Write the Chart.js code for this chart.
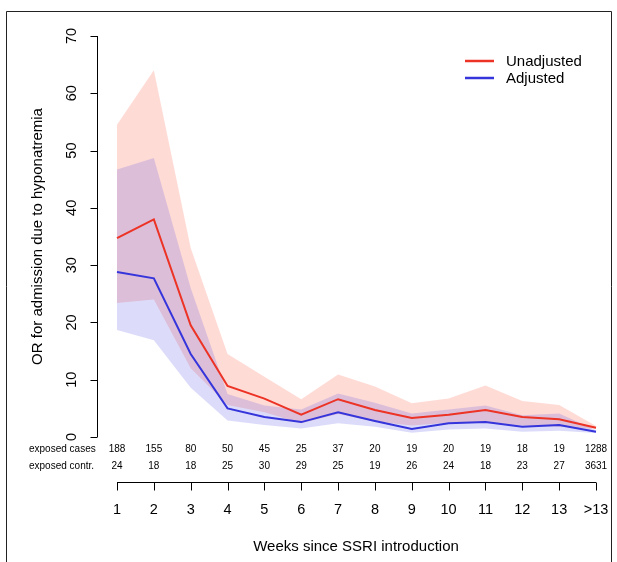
<!DOCTYPE html>
<html>
<head>
<meta charset="utf-8">
<script src="https://cdn.jsdelivr.net/npm/chart.js@4/dist/chart.umd.min.js"></script>
<style>
  html, body { margin: 0; padding: 0; background: #ffffff; }
  canvas { display: block; }
</style>
</head>
<body>
<canvas id="c" width="617" height="562"></canvas>
<script>
// ---- data ----
const weeks = ['1','2','3','4','5','6','7','8','9','10','11','12','13','>13'];
const unadjusted = [34.7, 38.0, 19.5, 8.9, 6.7, 3.9, 6.6, 4.7, 3.3, 3.9, 4.7, 3.5, 3.1, 1.6];
const unadjLower = [23.4, 24.0, 12.0, 5.6, 4.3, 2.4, 4.0, 2.7, 2.0, 2.5, 2.5, 2.0, 1.8, 1.4];
const unadjUpper = [54.5, 64.0, 33.0, 14.5, 10.5, 6.6, 10.9, 8.8, 5.9, 6.7, 9.0, 6.3, 5.6, 1.9];
const adjusted   = [28.8, 27.7, 14.5, 5.0, 3.5, 2.6, 4.3, 2.8, 1.4, 2.4, 2.6, 1.8, 2.1, 0.9];
const adjLower   = [18.7, 16.9, 8.6, 2.9, 2.1, 1.5, 2.4, 1.8, 0.75, 1.3, 1.5, 0.9, 1.1, 0.7];
const adjUpper   = [46.7, 48.7, 26.0, 7.5, 5.5, 4.8, 7.6, 6.0, 4.1, 4.8, 5.5, 3.8, 4.1, 1.2];
const exposedCases = [188, 155, 80, 50, 45, 25, 37, 20, 19, 20, 19, 18, 19, 1288];
const exposedContr = [24, 18, 18, 25, 30, 29, 25, 19, 26, 24, 18, 23, 27, 3631];
const yTicks = [0, 10, 20, 30, 40, 50, 60, 70];

const RED = '#EC3326';
const BLUE = '#3535DB';
const PINK_FILL = 'rgba(255,110,90,0.25)';
const BLUE_FILL = 'rgba(60,60,230,0.18)';
const FONT = '"Liberation Sans", Arial, Helvetica, sans-serif';

const rAxes = {
  id: 'rAxes',
  afterDraw(chart) {
    const ctx = chart.ctx;
    const xs = chart.scales.x, ys = chart.scales.y;
    ctx.save();
    // outer frame
    ctx.strokeStyle = '#222';
    ctx.lineWidth = 1;
    ctx.beginPath();
    ctx.moveTo(6.5, 562);
    ctx.lineTo(6.5, 11.5);
    ctx.lineTo(611.5, 11.5);
    ctx.lineTo(611.5, 562);
    ctx.stroke();

    // y axis
    const yAxisX = Math.round(xs.getPixelForValue(0) - 20) + 0.5;
    ctx.strokeStyle = '#000';
    ctx.beginPath();
    ctx.moveTo(yAxisX, ys.getPixelForValue(yTicks[0]));
    ctx.lineTo(yAxisX, ys.getPixelForValue(yTicks[yTicks.length - 1]));
    yTicks.forEach(t => {
      const py = Math.round(ys.getPixelForValue(t)) + 0.5;
      ctx.moveTo(yAxisX, py);
      ctx.lineTo(yAxisX - 7, py);
    });
    ctx.stroke();
    ctx.fillStyle = '#000';
    ctx.font = '14.5px ' + FONT;
    ctx.textAlign = 'center';
    ctx.textBaseline = 'middle';
    yTicks.forEach(t => {
      const py = ys.getPixelForValue(t);
      ctx.save();
      ctx.translate(yAxisX - 26, py);
      ctx.rotate(-Math.PI / 2);
      ctx.fillText(String(t), 0, 0);
      ctx.restore();
    });
    // y title
    ctx.font = '15px ' + FONT;
    ctx.save();
    ctx.translate(38, (ys.getPixelForValue(0) + ys.getPixelForValue(70)) / 2);
    ctx.rotate(-Math.PI / 2);
    ctx.fillText('OR for admission due to hyponatremia', 0, 0);
    ctx.restore();

    // table of counts
    ctx.font = '10px ' + FONT;
    ctx.textAlign = 'left';
    ctx.fillText('exposed cases', 29, 449);
    ctx.fillText('exposed contr.', 29, 466);
    ctx.textAlign = 'center';
    weeks.forEach((w, i) => {
      const px = xs.getPixelForValue(i);
      ctx.fillText(String(exposedCases[i]), px, 449);
      ctx.fillText(String(exposedContr[i]), px, 466);
    });

    // x axis
    const axY = 482.5;
    ctx.beginPath();
    ctx.moveTo(xs.getPixelForValue(0), axY);
    ctx.lineTo(xs.getPixelForValue(weeks.length - 1), axY);
    weeks.forEach((w, i) => {
      const px = Math.round(xs.getPixelForValue(i)) + 0.5;
      ctx.moveTo(px, axY);
      ctx.lineTo(px, axY + 8);
    });
    ctx.stroke();
    ctx.font = '14.5px ' + FONT;
    weeks.forEach((w, i) => {
      ctx.fillText(w, xs.getPixelForValue(i), 510);
    });
    ctx.font = '15px ' + FONT;
    ctx.fillText('Weeks since SSRI introduction', 356, 547);

    // legend
    const legend = [['Unadjusted', RED], ['Adjusted', BLUE]];
    legend.forEach((item, k) => {
      const ly = 61 + k * 17;
      ctx.strokeStyle = item[1];
      ctx.lineWidth = 2.5;
      ctx.beginPath();
      ctx.moveTo(465, ly);
      ctx.lineTo(494, ly);
      ctx.stroke();
      ctx.fillStyle = '#000';
      ctx.textAlign = 'left';
      ctx.font = '15px ' + FONT;
      ctx.fillText(item[0], 506, ly + 1);
    });
    ctx.restore();
  }
};

const common = { pointRadius: 0, pointHoverRadius: 0, tension: 0 };

new Chart(document.getElementById('c'), {
  type: 'line',
  data: {
    labels: weeks,
    datasets: [
      Object.assign({ label: 'Adjusted', data: adjusted, borderColor: BLUE, borderWidth: 2, fill: false }, common),
      Object.assign({ label: 'Unadjusted', data: unadjusted, borderColor: RED, borderWidth: 2, fill: false }, common),
      Object.assign({ label: 'Adjusted upper', data: adjUpper, borderColor: 'rgba(0,0,0,0)', borderWidth: 0, backgroundColor: BLUE_FILL, fill: '+1' }, common),
      Object.assign({ label: 'Adjusted lower', data: adjLower, borderColor: 'rgba(0,0,0,0)', borderWidth: 0, fill: false }, common),
      Object.assign({ label: 'Unadjusted upper', data: unadjUpper, borderColor: 'rgba(0,0,0,0)', borderWidth: 0, backgroundColor: PINK_FILL, fill: '+1' }, common),
      Object.assign({ label: 'Unadjusted lower', data: unadjLower, borderColor: 'rgba(0,0,0,0)', borderWidth: 0, fill: false }, common)
    ]
  },
  options: {
    responsive: false,
    devicePixelRatio: 1,
    animation: false,
    events: [],
    layout: { padding: { left: 117, right: 21, top: 36, bottom: 125 } },
    scales: {
      x: { type: 'category', display: false, offset: false },
      y: { type: 'linear', display: false, min: 0, max: 70 }
    },
    plugins: {
      legend: { display: false },
      tooltip: { enabled: false },
      title: { display: false }
    }
  },
  plugins: [rAxes]
});
</script>
</body>
</html>
